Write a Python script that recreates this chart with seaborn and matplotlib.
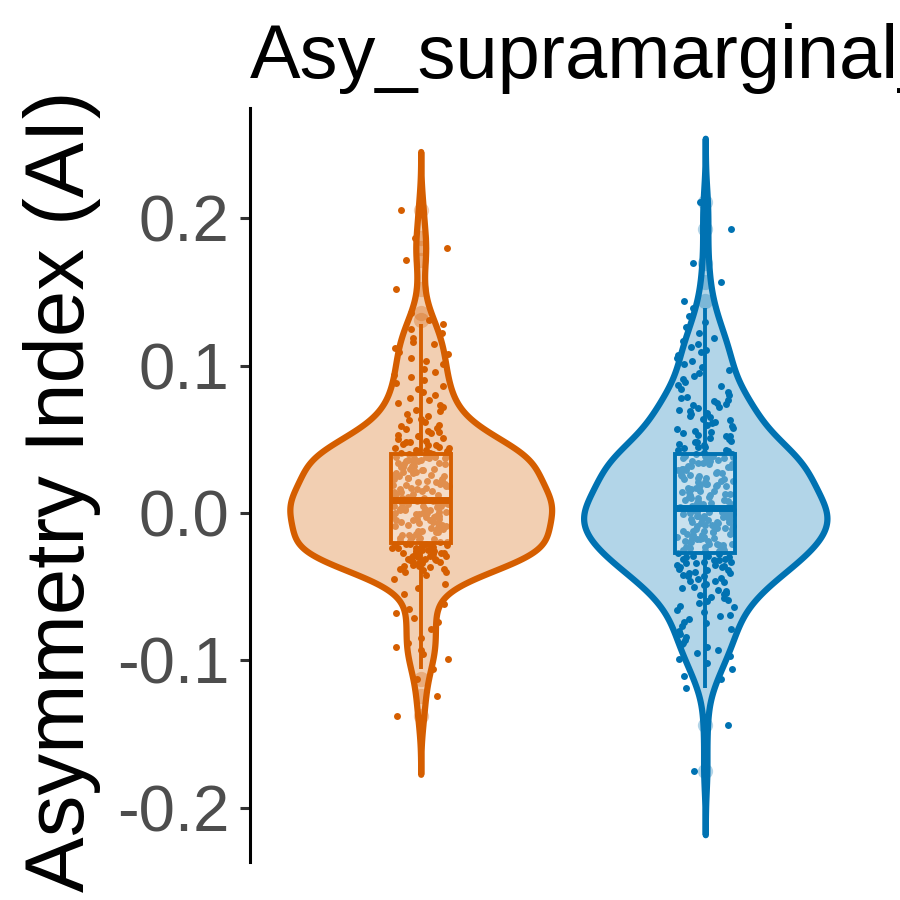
import numpy as np
import pandas as pd
import matplotlib
matplotlib.use('Agg')
import matplotlib.pyplot as plt
import seaborn as sns

# Asymmetry index per subject (two groups)
group_a = [
    -0.138, -0.124, -0.113, -0.106,
    -0.099, -0.096, -0.093, -0.091, -0.088, -0.085, -0.079, -0.074,
    -0.071, -0.068, -0.065, -0.062,
    -0.055, -0.051, -0.048,
    -0.045, -0.042, -0.040, -0.040, -0.039, -0.038, -0.038, -0.034, -0.031,
    -0.037, -0.036, -0.036, -0.035, -0.035, -0.034, -0.033, -0.033, -0.032, -0.032,
    -0.031, -0.031, -0.030, -0.030, -0.029, -0.029, -0.028, -0.028, -0.027, -0.027,
    -0.027, -0.026, -0.026, -0.025, -0.025, -0.025, -0.024, -0.024, -0.024, -0.023,
    -0.023, -0.023, -0.022, -0.022, -0.022, -0.021, -0.021, -0.021, -0.020,
    -0.029, -0.027, -0.025,
    -0.020, -0.019, -0.019, -0.018, -0.018, -0.017, -0.017, -0.016, -0.016, -0.015,
    -0.015, -0.014, -0.014, -0.013, -0.013, -0.012, -0.012, -0.011, -0.011, -0.010,
    -0.010, -0.009, -0.009, -0.008, -0.008, -0.007, -0.007, -0.006, -0.006, -0.005,
    -0.005, -0.005, -0.004, -0.004, -0.003, -0.003, -0.002, -0.002, -0.002, -0.001,
    -0.001, 0.000, 0.000, 0.000, 0.001, 0.001, 0.002, 0.002, 0.002, 0.003,
    0.003, 0.003, 0.004, 0.004, 0.005, 0.005, 0.005, 0.006, 0.006, 0.006,
    0.007, 0.007, 0.007, 0.008, 0.008, 0.008, 0.009, 0.009, 0.009, 0.009,
    0.010, 0.010, 0.011, 0.011, 0.012, 0.012, 0.013, 0.013, 0.013, 0.014,
    0.014, 0.015, 0.015, 0.016, 0.016, 0.017, 0.017, 0.018, 0.018, 0.019,
    0.019, 0.020, 0.020, 0.021, 0.021, 0.022, 0.022, 0.023, 0.023, 0.024,
    0.024, 0.025, 0.025, 0.026, 0.026, 0.027, 0.027, 0.028, 0.028, 0.029,
    0.029, 0.030, 0.030, 0.031, 0.031, 0.032, 0.032, 0.033, 0.033, 0.034,
    0.034, 0.035, 0.035, 0.035, 0.036, 0.036, 0.037, 0.037, 0.037, 0.038,
    0.038, 0.038, 0.039, 0.039, 0.039, 0.040, 0.040, 0.040, 0.041, 0.041,
    0.042, 0.042, 0.043, 0.043, 0.044, 0.044, 0.045, 0.046, 0.046, 0.047,
    0.048, 0.048, 0.049, 0.050, 0.051, 0.052, 0.052, 0.053, 0.054, 0.055,
    0.056, 0.057, 0.058, 0.059, 0.060, 0.062, 0.063, 0.064, 0.066, 0.067,
    0.069, 0.070, 0.072, 0.073, 0.075, 0.077, 0.078, 0.080, 0.082, 0.084,
    0.086, 0.088, 0.090, 0.092, 0.094, 0.096, 0.098, 0.101, 0.103, 0.105,
    0.108, 0.109, 0.112, 0.115, 0.116, 0.119, 0.122, 0.125, 0.128,
    0.131, 0.136, 0.152, 0.172, 0.180, 0.187, 0.206,
]
group_b = [
    -0.175, -0.144, -0.119, -0.113, -0.111, -0.106, -0.102,
    -0.099, -0.097, -0.095, -0.093, -0.091, -0.089, -0.088, -0.086, -0.084, -0.082,
    -0.080, -0.079, -0.077, -0.075, -0.074, -0.072, -0.070, -0.069, -0.067, -0.066,
    -0.064, -0.063, -0.061, -0.060,
    -0.059, -0.058, -0.057, -0.056, -0.055, -0.054, -0.053, -0.052, -0.051, -0.050,
    -0.049, -0.048, -0.047, -0.046, -0.046, -0.045, -0.044, -0.043, -0.043, -0.042,
    -0.041, -0.041, -0.040, -0.039, -0.039, -0.038, -0.037, -0.037, -0.036, -0.035,
    -0.035, -0.034, -0.034, -0.033, -0.033, -0.032, -0.032, -0.031, -0.031, -0.030,
    -0.030, -0.029, -0.029, -0.028,
    -0.027, -0.027, -0.026, -0.026, -0.025, -0.025, -0.024, -0.024, -0.023, -0.023,
    -0.022, -0.022, -0.021, -0.021, -0.020, -0.020, -0.019, -0.019, -0.018, -0.018,
    -0.017, -0.017, -0.016, -0.016, -0.015, -0.015, -0.014, -0.014, -0.013, -0.013,
    -0.012, -0.012, -0.011, -0.011, -0.010, -0.010, -0.009, -0.009, -0.008, -0.008,
    -0.007, -0.007, -0.006, -0.006, -0.005, -0.005, -0.004, -0.004, -0.003, -0.003,
    -0.002, -0.002, -0.002, -0.001, -0.001, 0.000, 0.000, 0.000, 0.001, 0.001,
    0.001, 0.002, 0.002, 0.002, 0.003,
    -0.026, -0.021, -0.017, -0.012, -0.009, -0.006, -0.004, -0.001, 0.001, 0.003,
    0.004, 0.004, 0.005, 0.005, 0.006, 0.006, 0.007, 0.007, 0.008, 0.008,
    0.009, 0.009, 0.010, 0.010, 0.011, 0.011, 0.012, 0.012, 0.013, 0.013,
    0.014, 0.014, 0.015, 0.015, 0.016, 0.016, 0.017, 0.017, 0.018, 0.018,
    0.019, 0.019, 0.020, 0.020, 0.021, 0.021, 0.022, 0.022, 0.023, 0.023,
    0.024, 0.024, 0.025, 0.025, 0.026, 0.026, 0.027, 0.027, 0.028, 0.028,
    0.029, 0.029, 0.030, 0.030, 0.031, 0.031, 0.032, 0.032, 0.033, 0.033,
    0.034, 0.034, 0.035, 0.035, 0.036, 0.036, 0.037, 0.037, 0.038, 0.038,
    0.039, 0.039, 0.039, 0.040, 0.040,
    0.041, 0.041, 0.042, 0.043, 0.043, 0.044, 0.045, 0.045, 0.046, 0.047,
    0.048, 0.048, 0.049, 0.050, 0.051, 0.052, 0.052, 0.053, 0.054, 0.055,
    0.056, 0.057, 0.058, 0.059, 0.060, 0.061, 0.062, 0.063, 0.064, 0.065,
    0.066, 0.067, 0.068, 0.069, 0.070, 0.071, 0.072, 0.073, 0.074, 0.075,
    0.076, 0.077, 0.078, 0.079, 0.080,
    0.082, 0.084, 0.086, 0.087, 0.089, 0.091, 0.093, 0.095, 0.097, 0.099,
    0.101, 0.103, 0.105, 0.107, 0.109, 0.111, 0.113, 0.115, 0.117, 0.119,
    0.122, 0.126, 0.130, 0.134, 0.139, 0.144, 0.157, 0.170, 0.193, 0.211,
]
group_names = ['group_1', 'group_2']
title = 'Asy_supramarginal_'
ylabel = 'Asymmetry Index (AI)'
yticks = [-0.2, -0.1, 0.0, 0.1, 0.2]

dark = {'group_1': '#D55E00', 'group_2': '#0072B2'}
light = {'group_1': '#F2CFB2', 'group_2': '#B2D5E8'}
widths = {'group_1': 0.92, 'group_2': 0.855}

df = pd.DataFrame({
    'group': [group_names[0]] * len(group_a) + [group_names[1]] * len(group_b),
    'AI': group_a + group_b,
})


def nrd0(v):
    # same rule of thumb as R's density()
    v = np.asarray(v)
    sd = v.std(ddof=1)
    q75, q25 = np.percentile(v, [75, 25])
    return 0.9 * min(sd, (q75 - q25) / 1.34) * len(v) ** -0.2


sns.set_style('white')
plt.rcParams['font.family'] = ['Liberation Sans', 'DejaVu Sans']
plt.rcParams['axes.unicode_minus'] = False

fig = plt.figure(figsize=(9, 9), dpi=100)
ax = fig.add_axes([250 / 900, 38 / 900, 626 / 900, 754 / 900])
np.random.seed(7)

for g in group_names:
    sub = df[df.group == g]
    bw = nrd0(sub.AI)

    sns.violinplot(data=sub, x='group', y='AI', order=group_names, inner=None,
                   cut=3, bw_method=bw / sub.AI.std(ddof=1), gridsize=500,
                   width=widths[g], color=light[g], linecolor=dark[g],
                   linewidth=4.5, saturation=1, ax=ax)

    sns.stripplot(data=sub, x='group', y='AI', order=group_names, color=dark[g],
                  size=5, jitter=0.1, linewidth=0, ax=ax, zorder=2)

    n_p, n_l = len(ax.patches), len(ax.lines)
    sns.boxplot(data=sub, x='group', y='AI', order=group_names, width=0.21,
                color='white', linecolor=dark[g], linewidth=2.8, showcaps=False,
                saturation=1, fliersize=11, ax=ax)
    for p in ax.patches[n_p:]:
        p.set_facecolor((1, 1, 1, 0.3))
        p.set_edgecolor(dark[g])
        p.set_zorder(3)
    for ln in ax.lines[n_l:]:
        ln.set_zorder(3)
        if ln.get_marker() not in (None, 'None', '', ' '):
            ln.set_markerfacecolor(dark[g])
            ln.set_markeredgecolor('none')
            ln.set_markersize(11)
            ln.set_alpha(0.3)
            ln.set_zorder(1.5)
        elif len(ln.get_xdata()) == 2 and ln.get_ydata()[0] == ln.get_ydata()[1]:
            ln.set_linewidth(5)

ax.set_ylim(-0.237, 0.275)
ax.set_xlim(-0.6, 1.6)

ax.set_yticks(yticks)
ax.set_yticklabels([f'{t:.1f}' for t in yticks])
ax.tick_params(axis='y', labelsize=47, labelcolor='#4D4D4D', color='#333333',
               length=7, width=2.2, pad=8, left=True)
ax.tick_params(axis='x', bottom=False, labelbottom=False)
ax.set_xlabel('')
ax.set_ylabel(ylabel, fontsize=60, color='black')
ax.yaxis.set_label_coords(-0.238, 0.492)

sns.despine(ax=ax, bottom=True)
ax.spines['left'].set_color('black')
ax.spines['left'].set_linewidth(2.2)

ax.text(0, 1 + 30 / 754, title, transform=ax.transAxes, fontsize=54.5,
        ha='left', va='baseline', color='black')

fig.savefig('out.png', dpi=100)
